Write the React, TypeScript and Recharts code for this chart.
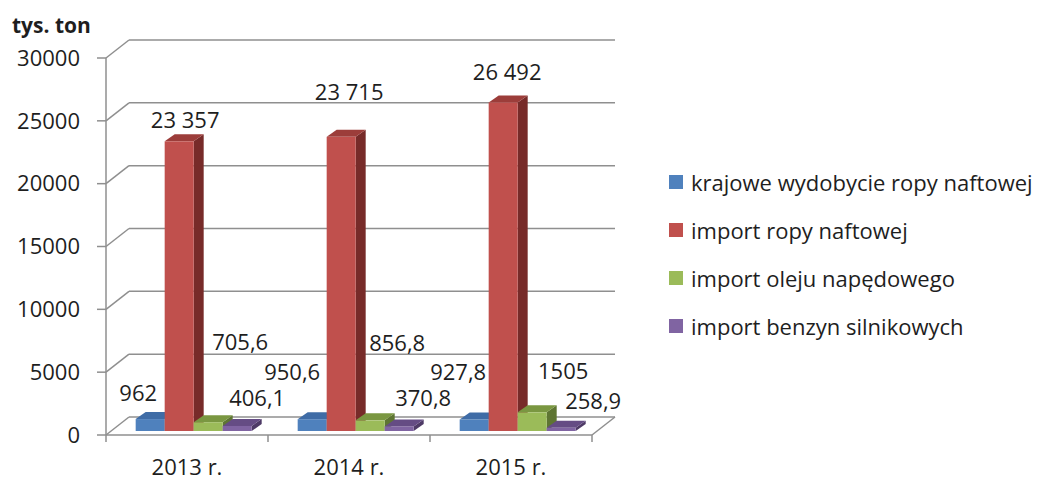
import React from 'react';
import { BarChart, Bar, XAxis, YAxis, CartesianGrid, LabelList } from 'recharts';

const years = ['2013 r.', '2014 r.', '2015 r.'];
const krajoweWydobycie = [962, 950.6, 927.8];
const importRopy = [23357, 23715, 26492];
const importOleju = [705.6, 856.8, 1505];
const importBenzyn = [406.1, 370.8, 258.9];
const yTicks = [0, 5000, 10000, 15000, 20000, 25000, 30000];

const series = [
  { key: 'krajowe', name: 'krajowe wydobycie ropy naftowej', values: krajoweWydobycie, front: '#4F81BD', top: '#3F6CA6', side: '#31567F' },
  { key: 'ropa', name: 'import ropy naftowej', values: importRopy, front: '#C0504D', top: '#9C3D3A', side: '#772B29' },
  { key: 'olej', name: 'import oleju napędowego', values: importOleju, front: '#9BBB59', top: '#7A9741', side: '#5E7532' },
  { key: 'benzyny', name: 'import benzyn silnikowych', values: importBenzyn, front: '#8064A2', top: '#654C84', side: '#4E3A66' },
];

// where each data label sits relative to the top of its bar (hand placed, like in the source)
const labelNudge: Record<string, number[][]> = {
  krajowe: [[-12, -26], [-20, -47], [-16, -47]],
  ropa: [[6, -21], [8, -45], [4, -30]],
  olej: [[32, -80], [27, -77], [31, -41]],
  benzyny: [[20, -28], [24, -28], [32, -26]],
};

const data = years.map((year, i) => {
  const row: Record<string, string | number> = { year };
  series.forEach((s) => (row[s.key] = s.values[i]));
  return row;
});

const W = 1043;
const H = 472;
const X_AXIS_H = 45;
const PLOT_BOTTOM = H - X_AXIS_H;
const FONT = '"Open Sans", sans-serif';
const TEXT = '#1e1e1e';
const GRID = '#8f8f8f';

// 3d look
const WALL_DX = 23;
const WALL_DY = 18;
const BAR_DX = 10;
const BAR_DY = 7;
const BAR_SHIFT_X = 7;
const BAR_SHIFT_Y = 4;
const BAR_DEPTH_SCALE = 0.987; // bars stand a bit behind the front axis

const fmt = (v: number) => v.toLocaleString('pl-PL');

function GridLine(props: any) {
  const { x1, x2, y1 } = props;
  const y = y1;
  const isFloor = Math.abs(y - PLOT_BOTTOM) < 1;
  const step = (x2 - x1) / years.length;
  return (
    <g key={`grid-${y}`}>
      <line x1={x1} y1={y} x2={x1 + WALL_DX} y2={y - WALL_DY} stroke={GRID} strokeWidth={1.5} />
      <line x1={x1 + WALL_DX} y1={y - WALL_DY} x2={x2 + WALL_DX} y2={y - WALL_DY} stroke={GRID} strokeWidth={1.5} />
      {isFloor && (
        <>
          <line x1={x2} y1={y} x2={x2 + WALL_DX} y2={y - WALL_DY} stroke={GRID} strokeWidth={1.5} />
          {[0, ...years.map((_, k) => k + 1)].map((k) => (
            <line key={k} x1={x1 + step * k} y1={y} x2={x1 + step * k} y2={y + 7} stroke={GRID} strokeWidth={1.5} />
          ))}
        </>
      )}
    </g>
  );
}

function barFront(x: number, y: number, width: number, height: number) {
  const h = height * BAR_DEPTH_SCALE;
  const bottom = y + height - BAR_SHIFT_Y;
  return { fx: x + BAR_SHIFT_X, fy: bottom - h, w: width, h };
}

function Box3D(props: any) {
  const { x, y, width, height, colors } = props;
  if (width == null || height == null) return null;
  const { fx, fy, w, h } = barFront(x, y, width, height);
  const topPts = `${fx},${fy} ${fx + w},${fy} ${fx + w + BAR_DX},${fy - BAR_DY} ${fx + BAR_DX},${fy - BAR_DY}`;
  const sidePts = `${fx + w},${fy} ${fx + w + BAR_DX},${fy - BAR_DY} ${fx + w + BAR_DX},${fy + h - BAR_DY} ${fx + w},${fy + h}`;
  return (
    <g>
      <polygon points={sidePts} fill={colors.side} />
      <polygon points={topPts} fill={colors.top} />
      <rect x={fx} y={fy} width={w} height={h} fill={colors.front} />
    </g>
  );
}

function makeLabel(key: string) {
  return (props: any) => {
    const { x, y, width, height, value, index } = props;
    const [dx, dy] = labelNudge[key][index];
    const { fx, fy, w } = barFront(x, y, width, height);
    return (
      <text x={fx + w / 2 + dx} y={fy + dy} dy="0.35em" textAnchor="middle" fontSize={22} fontFamily={FONT} fill={TEXT}>
        {fmt(Number(value))}
      </text>
    );
  };
}

export default function App() {
  return (
    <div style={{ position: 'relative', width: W, height: H, fontFamily: FONT }}>
      <div style={{ position: 'absolute', left: 4, top: 3, fontSize: 21, fontWeight: 700, color: TEXT }}>
        tys. ton
      </div>
      <BarChart
        width={W}
        height={H}
        data={data}
        margin={{ top: 50, right: 459, left: 0, bottom: 0 }}
        barCategoryGap="14%"
        barGap={0}
      >
        <CartesianGrid vertical={false} horizontal={(p: any) => <GridLine {...p} />} stroke={GRID} />
        <XAxis
          dataKey="year"
          height={X_AXIS_H}
          axisLine={{ stroke: GRID, strokeWidth: 1.5 }}
          tickLine={false}
          tickSize={0}
          tick={(p: any) => (
            <text x={p.x} y={p.y + 38} textAnchor="middle" fontSize={22} fontFamily={FONT} fill={TEXT}>
              {p.payload.value}
            </text>
          )}
        />
        <YAxis
          width={98}
          domain={[0, 30000]}
          ticks={yTicks}
          interval={0}
          tickSize={9}
          tickMargin={17}
          axisLine={{ stroke: GRID, strokeWidth: 1.5 }}
          tickLine={{ stroke: GRID, strokeWidth: 1.5 }}
          tick={{ fontSize: 22, fontFamily: FONT, fill: TEXT }}
        />
        {series.map((s) => (
          <Bar
            key={s.key}
            dataKey={s.key}
            name={s.name}
            fill={s.front}
            isAnimationActive={false}
            shape={(p: any) => <Box3D {...p} colors={s} />}
          >
            <LabelList dataKey={s.key} content={makeLabel(s.key)} />
          </Bar>
        ))}
      </BarChart>
      <div style={{ position: 'absolute', left: 661, top: 150 }}>
        {series.map((s) => (
          <div key={s.key} style={{ display: 'flex', alignItems: 'center', height: 48 }}>
            <span style={{ width: 14, height: 14, background: s.front, marginRight: 8, display: 'inline-block' }} />
            <span style={{ fontSize: 22, color: TEXT, whiteSpace: 'nowrap' }}>{s.name}</span>
          </div>
        ))}
      </div>
    </div>
  );
}
